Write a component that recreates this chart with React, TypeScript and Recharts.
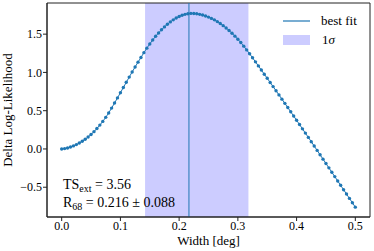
import React from "react";
import {
  ComposedChart,
  Line,
  XAxis,
  YAxis,
  ReferenceArea,
  ReferenceLine,
  Legend,
  Label,
} from "recharts";

// width grid of the likelihood scan [deg]
const widths = [
  0.0, 0.005, 0.01, 0.015, 0.02, 0.025, 0.03, 0.035, 0.04, 0.045,
  0.05, 0.055, 0.06, 0.065, 0.07, 0.075, 0.08, 0.085, 0.09, 0.095,
  0.1, 0.105, 0.11, 0.115, 0.12, 0.125, 0.13, 0.135, 0.14, 0.145,
  0.15, 0.155, 0.16, 0.165, 0.17, 0.175, 0.18, 0.185, 0.19, 0.195,
  0.2, 0.205, 0.21, 0.215, 0.22, 0.225, 0.23, 0.235, 0.24, 0.245,
  0.25, 0.255, 0.26, 0.265, 0.27, 0.275, 0.28, 0.285, 0.29, 0.295,
  0.3, 0.305, 0.31, 0.315, 0.32, 0.325, 0.33, 0.335, 0.34, 0.345,
  0.35, 0.355, 0.36, 0.365, 0.37, 0.375, 0.38, 0.385, 0.39, 0.395,
  0.4, 0.405, 0.41, 0.415, 0.42, 0.425, 0.43, 0.435, 0.44, 0.445,
  0.45, 0.455, 0.46, 0.465, 0.47, 0.475, 0.48, 0.485, 0.49, 0.495,
  0.5,
];

const deltaLogL = [
  0.0, 0.005, 0.013, 0.025, 0.04, 0.057, 0.077, 0.1, 0.126, 0.156,
  0.189, 0.226, 0.267, 0.312, 0.36, 0.413, 0.47, 0.534, 0.6, 0.667,
  0.735, 0.803, 0.871, 0.939, 1.006, 1.071, 1.134, 1.195, 1.258, 1.317,
  1.372, 1.424, 1.472, 1.516, 1.557, 1.595, 1.629, 1.66, 1.687, 1.711,
  1.731, 1.747, 1.759, 1.767, 1.771, 1.77, 1.766, 1.759, 1.75, 1.738,
  1.723, 1.706, 1.687, 1.664, 1.639, 1.611, 1.581, 1.548, 1.512, 1.474,
  1.433, 1.39, 1.343, 1.294, 1.243, 1.191, 1.138, 1.085, 1.031, 0.977,
  0.923, 0.869, 0.815, 0.761, 0.706, 0.651, 0.596, 0.541, 0.486, 0.431,
  0.375, 0.319, 0.263, 0.207, 0.151, 0.095, 0.038, -0.019, -0.076, -0.133,
  -0.19, -0.247, -0.304, -0.361, -0.418, -0.475, -0.532, -0.589, -0.646, -0.703,
  -0.76,
];

const bestFit = 0.2167;
const sigmaBand = [0.142, 0.318];
const xTicks = [0, 0.1, 0.2, 0.3, 0.4, 0.5];
const yTicks = [-0.5, 0, 0.5, 1, 1.5];
const tsExt = "3.56";
const r68 = "0.216 ± 0.088";

const data = widths.map((w, i) => ({ w, ll: deltaLogL[i] }));

const BLUE = "#1f77b4";
const BAND = "#ccccff";
const FONT = "'Liberation Serif', 'Times New Roman', serif";
const fmt = (v: number) => (v < 0 ? "\u2212" + Math.abs(v).toFixed(1) : v.toFixed(1));

function LegendBox() {
  return (
    <div style={{ fontFamily: FONT, fontSize: 13, color: "#000", lineHeight: "16px" }}>
      <div style={{ display: "flex", alignItems: "center", height: 17 }}>
        <svg width={27} height={10} style={{ marginRight: 11 }}>
          <line x1={0} y1={5} x2={27} y2={5} stroke={BLUE} strokeWidth={1.2} />
        </svg>
        <span>best fit</span>
      </div>
      <div style={{ display: "flex", alignItems: "center", height: 17, marginTop: 2 }}>
        <svg width={27} height={10} style={{ marginRight: 12 }}>
          <rect x={0} y={0} width={27} height={10} fill={BAND} />
        </svg>
        <span>1<i>σ</i></span>
      </div>
    </div>
  );
}

export default function App() {
  return (
    <div style={{ position: "absolute", left: 0, top: 0, width: 374, height: 251 }}>
      <ComposedChart
        width={374}
        height={251}
        data={data}
        margin={{ top: 3, right: 4, left: 0, bottom: 0 }}
      >
        <XAxis
          dataKey="w"
          type="number"
          domain={[-0.025, 0.525]}
          ticks={xTicks}
          tickFormatter={fmt}
          height={34}
          tickSize={4}
          tickMargin={0}
          axisLine={{ stroke: "#222" }}
          tickLine={{ stroke: "#222" }}
          tick={{ fill: "#000", fontSize: 12, fontFamily: FONT }}
          allowDataOverflow
        >
          <Label
            value="Width [deg]"
            position="insideBottom"
            offset={6}
            style={{ fill: "#000", fontSize: 13, fontFamily: FONT }}
          />
        </XAxis>
        <YAxis
          type="number"
          domain={[-0.889, 1.907]}
          ticks={yTicks}
          tickFormatter={fmt}
          width={47}
          tickSize={4}
          tickMargin={1}
          axisLine={{ stroke: "#222" }}
          tickLine={{ stroke: "#222" }}
          tick={{ fill: "#000", fontSize: 12, fontFamily: FONT }}
          allowDataOverflow
        >
          <Label
            content={({ viewBox }: any) => {
              const cy = viewBox.y + viewBox.height / 2;
              return (
                <text
                  x={12}
                  y={cy}
                  transform={`rotate(-90, 12, ${cy})`}
                  textAnchor="middle"
                  fill="#000"
                  fontSize={13}
                  fontFamily={FONT}
                >
                  Delta Log-Likelihood
                </text>
              );
            }}
          />
        </YAxis>
        <ReferenceArea x1={sigmaBand[0]} x2={sigmaBand[1]} fill={BAND} fillOpacity={1} stroke="none" />
        <ReferenceLine x={bestFit} stroke={BLUE} strokeWidth={1} />
        <Line
          dataKey="ll"
          stroke={BLUE}
          strokeWidth={1}
          dot={{ r: 1.7, fill: BLUE, stroke: "none" }}
          isAnimationActive={false}
        />
        <ReferenceArea
          x1={-0.025}
          x2={0.525}
          y1={-0.889}
          y2={1.907}
          fill="none"
          stroke="#222"
          strokeWidth={1}
        />
        <Legend
          layout="horizontal"
          verticalAlign="middle"
          align="center"
          content={() => <LegendBox />}
          wrapperStyle={{ top: 12, left: 283, width: "auto" }}
        />
      </ComposedChart>
      <div
        style={{
          position: "absolute",
          left: 63,
          top: 178,
          fontFamily: FONT,
          fontSize: 14,
          color: "#000",
          lineHeight: "14px",
          whiteSpace: "nowrap",
        }}
      >
        <div>
          TS<sub style={{ fontSize: 10, verticalAlign: "-3px" }}>ext</sub> = {tsExt}
        </div>
        <div>
          R<sub style={{ fontSize: 10, verticalAlign: "-3px" }}>68</sub> = {r68}
        </div>
      </div>
    </div>
  );
}
